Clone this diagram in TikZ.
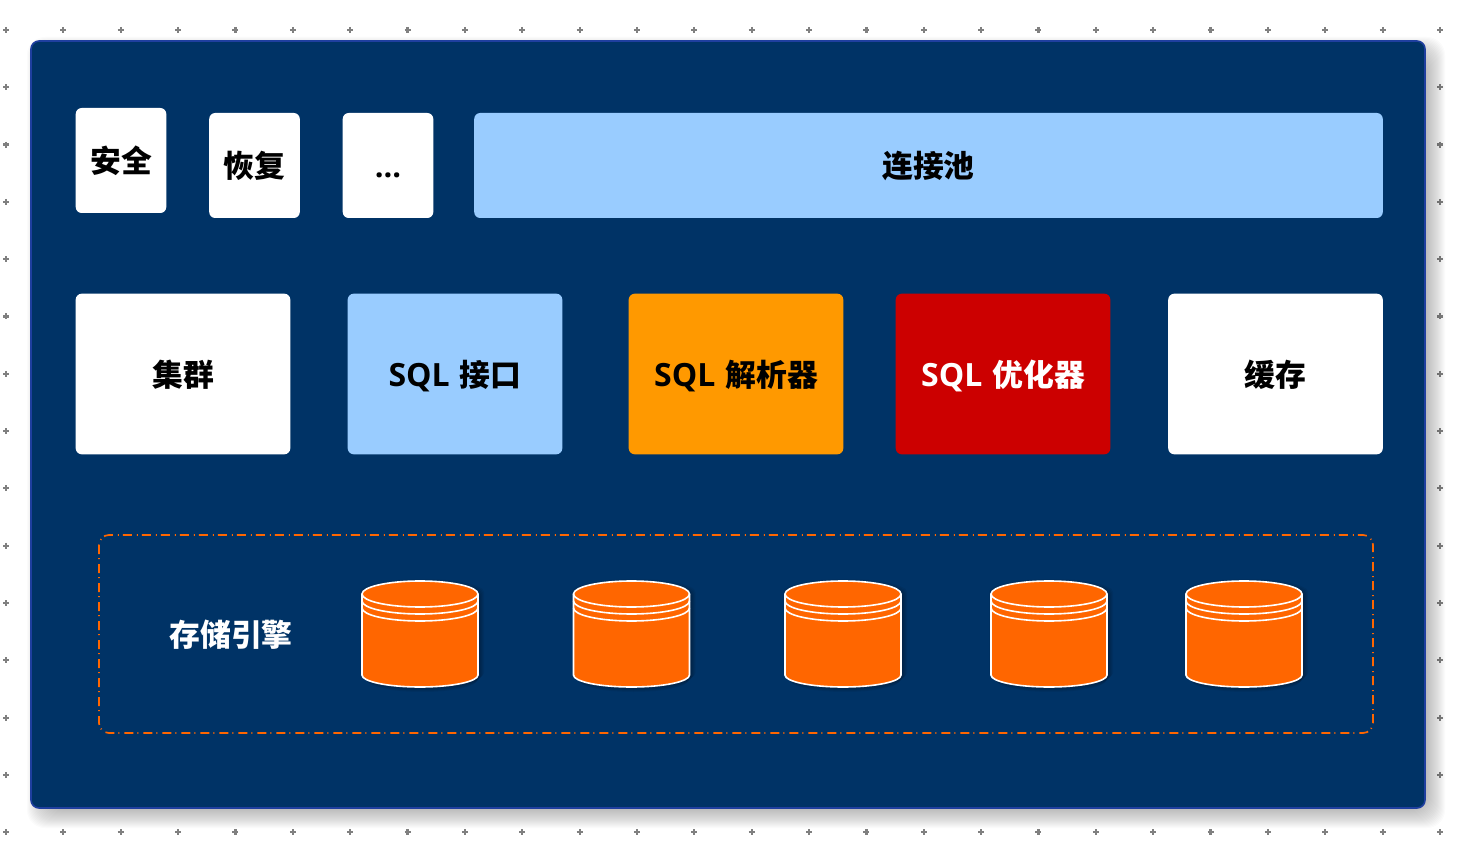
\documentclass[tikz,border=0pt]{standalone}
\usepackage{xcolor}
\usepackage{fontspec}
\setmainfont{Noto Sans CJK SC}
\newfontfamily\latinfont{Open Sans}
\usetikzlibrary{positioning}
\definecolor{panelblue}{HTML}{003366}
\definecolor{panelline}{HTML}{1F3F9F}
\definecolor{skyblue}{HTML}{99CCFF}
\definecolor{amber}{HTML}{FF9900}
\definecolor{deepred}{HTML}{CC0000}
\definecolor{dborange}{HTML}{FF6600}
\tikzset{
    x=0.5pt, y=-0.5pt,
    tile/.style={rounded corners=3pt, inner sep=0pt, font=\fontsize{15.4}{18}\selectfont\bfseries, text=black, text height=14pt, text depth=1.5pt},
    smalltile/.style={tile, minimum width=45.3pt, minimum height=52.5pt},
    bigtile/.style={tile, minimum width=107.3pt, minimum height=80.3pt},
    dbline/.style={draw=white, line width=0.8pt},
    gridmark/.style={draw=gray, line width=1.1pt}
}
% one database: centre x, given in pixels
\newcommand{\dbstack}[1]{
    \foreach \k in {1,...,8} {
        \fill[black, opacity=0.06] ({#1-58+6-\k},{594+6-\k}) arc (180:360:{58+\k-4} and 13) -- ++(0,81) arc (0:180:{58+\k-4} and 12) -- cycle;
    }
    \filldraw[dbline, fill=dborange] ({#1-58},594) arc (180:360:58 and 13) -- ++(0,81) arc (0:180:58 and 12) -- cycle;
    \draw[dbline] ({#1-58},594) arc (180:0:58 and 13);
    \draw[dbline] ({#1-58},601) arc (180:0:58 and 13);
    \draw[dbline] ({#1-58},608) arc (180:0:58 and 13);
}
\newcommand{\sql}{{\latinfont\fontsize{16}{18}\selectfont SQL}\hspace{1.5pt}}
\begin{document}
\begin{tikzpicture}
\useasboundingbox (0,0) rectangle (1462,844);

% Grid marks
\foreach \i in {0,...,25} {
    \foreach \j in {0,...,14} {
        \draw[gridmark] ({6+57.36*\i-3},{30+57.3*\j}) -- ++(6,0);
        \draw[gridmark] ({6+57.36*\i},{30+57.3*\j-3}) -- ++(0,6);
    }
}

% Soft shadow of the panel
\foreach \k in {-12,...,12} {
    \fill[black, opacity=0.014, rounded corners=9pt] ({39-\k},{49-\k}) rectangle ({1433+\k},{816+\k});
}

% Panel
\draw[draw=panelline, line width=0.8pt, fill=panelblue, rounded corners=4pt] (31,41) rectangle (1425,808);

% Top row
\node[smalltile, fill=white] (safety) at (121,160.5) {安全};
\node[smalltile, fill=white] (recovery) at (254.5,165.5) {恢复};
\node[smalltile, fill=white] (others) at (388,165.5) {\latinfont ...};
\node[tile, fill=skyblue, minimum width=454.3pt, minimum height=52.5pt] (pool) at (928.5,165.5) {连接池};

% Middle row
\node[bigtile, fill=white] (cluster) at (183,374) {集群};
\node[bigtile, fill=skyblue] (sqlapi) at (455,374) {\sql\ 接口};
\node[bigtile, fill=amber] (parser) at (736,374) {\sql\ 解析器};
\node[bigtile, fill=deepred, text=white] (optimizer) at (1003,374) {\sql\ 优化器};
\node[bigtile, fill=white] (cache) at (1275.5,374) {缓存};

% Storage engines
\draw[draw=dborange, line width=0.85pt, rounded corners=5pt, dash pattern=on 4.5pt off 2pt on 0.5pt off 2.5pt] (99,535) rectangle (1373,733);
\node[font=\fontsize{15.4}{18}\selectfont\bfseries, text=white] (engine) at (231,634.5) {存储引擎};
\dbstack{420}
\dbstack{631.5}
\dbstack{843}
\dbstack{1049}
\dbstack{1244}

\end{tikzpicture}
\end{document}
